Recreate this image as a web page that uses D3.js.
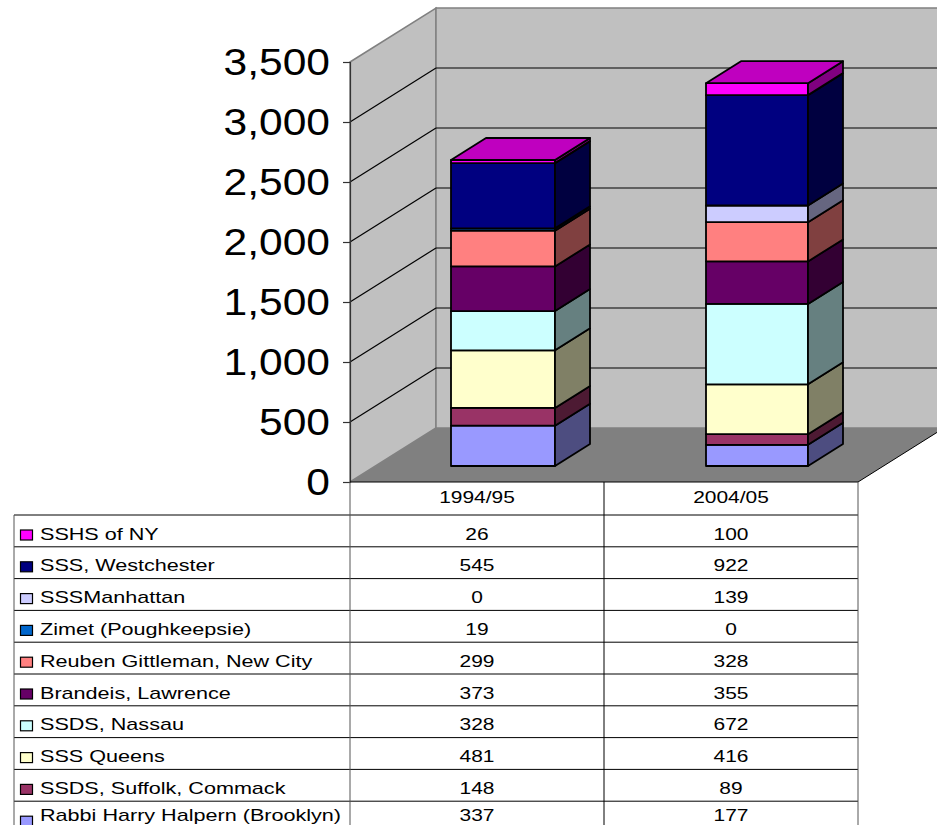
<!DOCTYPE html>
<html><head><meta charset="utf-8">
<script src="https://cdn.jsdelivr.net/npm/d3@7/dist/d3.min.js"></script>
<style>html,body{margin:0;padding:0;background:#fff;overflow:hidden}svg{display:block}text{font-family:"Liberation Sans",Arial,sans-serif;fill:#000}</style>
</head><body><svg id="c" width="937" height="825"></svg>
<script>
const years = ["1994/95", "2004/05"];
const schools = ["Rabbi Harry Halpern (Brooklyn)", "SSDS, Suffolk, Commack", "SSS Queens", "SSDS, Nassau", "Brandeis, Lawrence", "Reuben Gittleman, New City", "Zimet (Poughkeepsie)", "SSSManhattan", "SSS, Westchester", "SSHS of NY"];
const values1994 = [337, 148, 481, 328, 373, 299, 19, 0, 545, 26];
const values2004 = [177, 89, 416, 672, 355, 328, 0, 139, 922, 100];
const colors = ["#9999FF", "#993366", "#FFFFCC", "#CCFFFF", "#660066", "#FF8080", "#0066CC", "#CCCCFF", "#000080", "#FF00FF"];
const yTicks = [0, 500, 1000, 1500, 2000, 2500, 3000, 3500];

const svg = d3.select("#c");
const L = 350, R = 858, B = 482, T = 62, DX = 86, DY = -54;
const barDX = 35, barDY = -22, barBase = 466;
const y = d3.scaleLinear().domain([0, 3500]).range([B, T]);
const yBar = d3.scaleLinear().domain([0, 3500]).range([barBase, barBase - 419]);
const x = d3.scaleBand().domain(years).range([L, R]);
const poly = pts => pts.map(p => p.join(",")).join(" ");

// walls and floor
svg.append("polygon").attr("points", poly([[L, T], [L + DX, T + DY], [L + DX, B + DY], [L, B]]))
  .attr("fill", "#C0C0C0").attr("stroke", "#808080").attr("stroke-width", 1.5);
svg.append("polygon").attr("points", poly([[L + DX, T + DY], [R + DX, T + DY], [R + DX, B + DY], [L + DX, B + DY]]))
  .attr("fill", "#C0C0C0").attr("stroke", "#808080").attr("stroke-width", 1.5);
svg.append("polygon").attr("points", poly([[L, B], [L + DX, B + DY], [R + DX, B + DY], [R, B]]))
  .attr("fill", "#808080");
svg.append("line").attr("x1", R).attr("y1", B).attr("x2", R + DX).attr("y2", B + DY).attr("stroke", "#000").attr("stroke-width", 1);

// gridlines
const grid = svg.append("g").attr("stroke", "#000").attr("stroke-width", 1.2);
yTicks.filter(t => t > 0 && t < 3500).forEach(t => {
  grid.append("line").attr("x1", L).attr("y1", y(t)).attr("x2", L + DX).attr("y2", y(t) + DY);
  grid.append("line").attr("x1", L + DX).attr("y1", y(t) + DY).attr("x2", R + DX).attr("y2", y(t) + DY);
});

// axis
const stretch = 1.15;
const axis = svg.append("g").attr("transform", `translate(${L},0)`)
  .call(d3.axisLeft(y).tickValues(yTicks).tickFormat(d3.format(",")).tickSize(7).tickPadding(13));
axis.selectAll("path,line").attr("stroke", "#333").attr("stroke-width", 1.2);
axis.selectAll("text").attr("font-size", 37).attr("dy", "0.33em")
  .attr("x", -20 / stretch).attr("transform", `scale(${stretch},1)`)
  .style("font-family", '"Liberation Sans",Arial,sans-serif');

// stacked 3D bars
const rows = years.map((yr, i) => {
  const vals = i === 0 ? values1994 : values2004;
  const o = {year: yr};
  schools.forEach((s, j) => o[s] = vals[j]);
  return o;
});
const stacked = d3.stack().keys(schools)(rows);
const shade = (c, k) => { const r = d3.rgb(c); return d3.rgb(r.r * k, r.g * k, r.b * k).formatHex(); };
years.forEach((yr, i) => {
  const g = svg.append("g").attr("stroke", "#000").attr("stroke-width", 1.8).attr("stroke-linejoin", "round");
  const x0 = i === 0 ? 451 : 706;
  const w = i === 0 ? 104 : 102;
  stacked.forEach((layer, j) => {
    const [v0, v1] = layer[i];
    if (v1 - v0 <= 0) return;
    const y0 = yBar(v0), y1 = yBar(v1);
    g.append("rect").attr("x", x0).attr("y", y1).attr("width", w).attr("height", y0 - y1).attr("fill", colors[j]);
    g.append("polygon").attr("points", poly([[x0 + w, y1], [x0 + w + barDX, y1 + barDY], [x0 + w + barDX, y0 + barDY], [x0 + w, y0]]))
      .attr("fill", shade(colors[j], 0.5));
  });
  const top = yBar(d3.max(stacked, l => l[i][1]));
  g.append("polygon").attr("points", poly([[x0, top], [x0 + barDX, top + barDY], [x0 + w + barDX, top + barDY], [x0 + w, top]]))
    .attr("fill", shade(colors[9], 0.75));
});

// data table
const rowY = d3.scaleLinear().domain([0, 10]).range([515, 833]);
const tableL = 14;
const tbl = svg.append("g");
const line = (x1, y1, x2, y2, c = "#000") => tbl.append("line").attr("x1", x1).attr("y1", y1).attr("x2", x2).attr("y2", y2).attr("stroke", c).attr("stroke-width", 1);
const label = (px, py, s, size, anchor, str) => tbl.append("text")
  .attr("transform", `translate(${px},${py}) scale(${s},1)`)
  .attr("text-anchor", anchor).attr("font-size", size).text(str);
line(L, B, R, B);
d3.range(0, 10).forEach(r => line(tableL, rowY(r), R, rowY(r)));
line(tableL, 515, tableL, 825, "#555");
line(L, B, L, 825, "#555");
line(x(years[1]), B, x(years[1]), 825);
line(R, B, R, 825, "#555");
const colCx = k => x(years[k]) + x.bandwidth() / 2;
years.forEach((yr, k) => label(colCx(k), 503, 1.27, 16.5, "middle", yr));
const shown = schools.map((s, j) => j).reverse();
shown.forEach((j, r) => {
  const base = Math.min(rowY(r) + 24.5, 821);
  tbl.append("rect").attr("x", 20.5).attr("y", rowY(r) + 15).attr("width", 12).attr("height", 10)
    .attr("fill", colors[j]).attr("stroke", "#000").attr("stroke-width", 1.2);
  label(40, base, 1.27, 17, "start", schools[j]);
  [values1994[j], values2004[j]].forEach((v, k) => label(colCx(k), base, 1.27, 16.5, "middle", v));
});
</script></body></html>
